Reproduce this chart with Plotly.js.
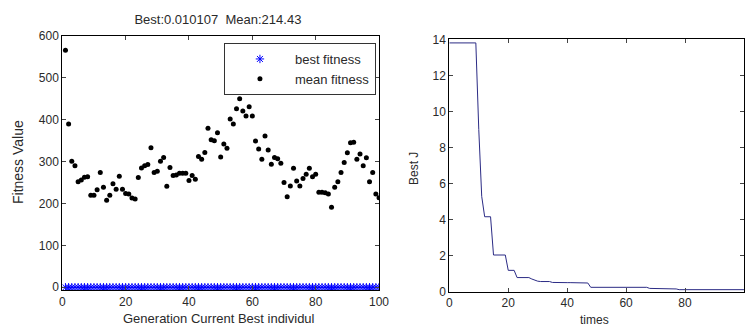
<!DOCTYPE html>
<html>
<head>
<meta charset="utf-8">
<script src="https://cdn.plot.ly/plotly-3.0.1.min.js"></script>
<style>
html,body{margin:0;padding:0;background:#fff;}
#chart{width:754px;height:327px;}
</style>
</head>
<body>
<div id="chart"></div>
<script>
// ---- Left panel: GA fitness per generation ----
const generations = [];
for (let g = 1; g <= 100; g++) generations.push(g);

const meanFitness = [
  566, 390, 301, 290, 252, 256, 263, 264, 220, 220,
  233, 274, 239, 208, 220, 247, 234, 265, 234, 224,
  223, 213, 211, 262, 285, 290, 293, 333, 274, 277,
  301, 310, 241, 286, 267, 268, 272, 272, 272, 255,
  267, 258, 312, 306, 322, 380, 352, 350, 369, 311,
  342, 332, 402, 390, 426, 450, 421, 409, 431, 409,
  349, 330, 306, 361, 328, 294, 310, 307, 296, 250,
  216, 242, 284, 254, 242, 260, 270, 284, 264, 270,
  227, 227, 226, 223, 191, 239, 252, 274, 298, 321,
  345, 346, 306, 318, 290, 309, 252, 274, 223, 214
];

const bestFitness = [];
for (let g = 1; g <= 100; g++) bestFitness.push(0.010107);

// ---- Right panel: best J over iterations ----
const times = [];
for (let t = 0; t <= 100; t++) times.push(t);

const bestJ = [
  13.8, 13.8, 13.8, 13.8, 13.8, 13.8, 13.8, 13.8, 13.8, 13.8,
  9.0, 5.3, 4.17, 4.17, 4.17, 2.05, 2.05, 2.05, 2.05, 2.05,
  1.2, 1.2, 1.2, 0.8, 0.8, 0.8, 0.8, 0.8, 0.72, 0.64,
  0.6, 0.58, 0.58, 0.58, 0.58, 0.53, 0.52, 0.52, 0.52, 0.52,
  0.52, 0.52, 0.52, 0.52, 0.52, 0.52, 0.52, 0.5, 0.26, 0.26,
  0.26, 0.26, 0.26, 0.26, 0.26, 0.26, 0.26, 0.26, 0.26, 0.26,
  0.26, 0.26, 0.26, 0.26, 0.26, 0.26, 0.26, 0.26, 0.2, 0.2,
  0.2, 0.2, 0.2, 0.2, 0.2, 0.2, 0.2, 0.17, 0.13, 0.13,
  0.13, 0.13, 0.13, 0.13, 0.13, 0.13, 0.13, 0.13, 0.13, 0.13,
  0.13, 0.13, 0.13, 0.13, 0.13, 0.13, 0.13, 0.13, 0.13, 0.13,
  0.13
];

const titleText = 'Best:0.010107  Mean:214.43';
const leftXTitle = 'Generation Current Best individul';
const leftYTitle = 'Fitness Value';
const rightXTitle = 'times';
const rightYTitle = 'Best J';

const FONT = 'Liberation Sans, Arial, Helvetica, sans-serif';
const TXT = '#2a2a2a';

const traces = [
  {
    x: generations, y: bestFitness, type: 'scatter', mode: 'markers',
    name: 'best fitness', xaxis: 'x', yaxis: 'y',
    marker: {symbol: 'asterisk-open', size: 7, color: '#0000ff', line: {color: '#0000ff', width: 1}}
  },
  {
    x: generations, y: meanFitness, type: 'scatter', mode: 'markers',
    name: 'mean fitness', xaxis: 'x', yaxis: 'y',
    marker: {symbol: 'circle', size: 5, color: '#000000'}
  },
  {
    x: times, y: bestJ, type: 'scatter', mode: 'lines',
    name: 'Best J', xaxis: 'x2', yaxis: 'y2', showlegend: false,
    line: {color: '#2b2b85', width: 1}
  }
];

const axisCommon = {
  showline: true, linecolor: '#000', linewidth: 1, mirror: 'ticks',
  ticks: 'inside', ticklen: 4, tickcolor: '#444', tickwidth: 1,
  showgrid: false, zeroline: false, fixedrange: true,
  tickfont: {family: FONT, size: 12, color: TXT}
};

const layout = {
  width: 754, height: 327,
  margin: {l: 0, r: 0, t: 0, b: 0},
  paper_bgcolor: '#fff', plot_bgcolor: '#fff',
  font: {family: FONT, color: TXT},
  title: {text: titleText, x: 0.289, xanchor: 'center', xref: 'paper',
          y: 0.942, yanchor: 'middle', yref: 'paper', font: {family: FONT, size: 13, color: TXT}},
  xaxis: Object.assign({}, axisCommon, {domain: [0.0826, 0.5027], range: [0, 100], tickvals: [0, 20, 40, 60, 80, 100], anchor: 'y'}),
  yaxis: Object.assign({}, axisCommon, {domain: [0.1125, 0.8899], range: [-7, 600], tickvals: [0, 100, 200, 300, 400, 500, 600], anchor: 'x'}),
  xaxis2: Object.assign({}, axisCommon, {domain: [0.5959, 0.9867], range: [0, 100], tickvals: [0, 20, 40, 60, 80, 100], anchor: 'y2'}),
  yaxis2: Object.assign({}, axisCommon, {domain: [0.107, 0.8798], range: [0, 14], tickvals: [0, 2, 4, 6, 8, 10, 12, 14], anchor: 'x2'}),
  showlegend: true,
  legend: {
    x: 0.297, y: 0.8685, xanchor: 'left', yanchor: 'top', xref: 'paper', yref: 'paper',
    bgcolor: '#fff', bordercolor: '#333', borderwidth: 1,
    font: {family: FONT, size: 13, color: TXT}, itemwidth: 60,
    entrywidth: 85, entrywidthmode: 'pixels'
  },
  annotations: [
    {text: leftXTitle, xref: 'paper', yref: 'paper', x: 219/754, y: 1 - 318/327, xanchor: 'center', yanchor: 'middle', showarrow: false, font: {family: FONT, size: 13, color: TXT}},
    {text: leftYTitle, xref: 'paper', yref: 'paper', x: 18/754, y: 1 - 162/327, xanchor: 'center', yanchor: 'middle', textangle: -90, showarrow: false, font: {family: FONT, size: 14, color: TXT}},
    {text: rightXTitle, xref: 'paper', yref: 'paper', x: 594/754, y: 1 - 320/327, xanchor: 'center', yanchor: 'middle', showarrow: false, font: {family: FONT, size: 12, color: TXT}},
    {text: rightYTitle, xref: 'paper', yref: 'paper', x: 414/754, y: 1 - 169/327, xanchor: 'center', yanchor: 'middle', textangle: -90, showarrow: false, font: {family: FONT, size: 12, color: TXT}}
  ]
};

Plotly.newPlot('chart', traces, layout, {displayModeBar: false, staticPlot: true});
</script>
</body>
</html>
